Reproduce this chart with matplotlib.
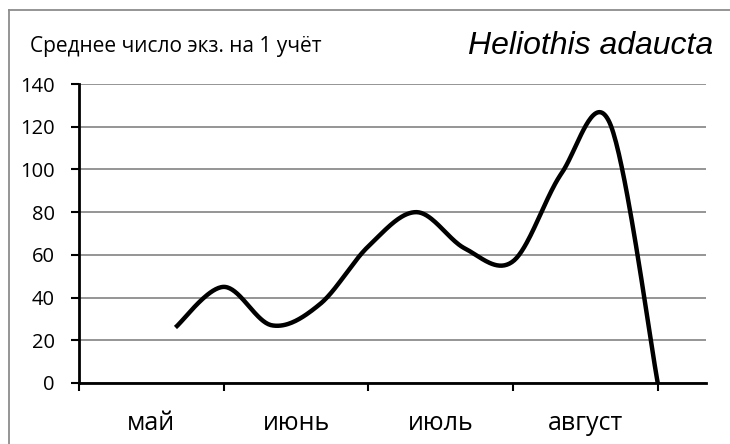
import numpy as np
import matplotlib
matplotlib.use("Agg")
import matplotlib.pyplot as plt
from matplotlib.lines import Line2D

# ten-day counts, positions are decade indices on the category axis
decades = [2, 3, 4, 5, 6, 7, 8, 9, 10, 11, 12]
counts = [26, 45, 27, 37, 64, 80, 63, 57, 98, 122, 0]
months = ["май", "июнь", "июль", "август"]
month_pos = [1.5, 4.5, 7.5, 10.5]
month_ticks = [0, 3, 6, 9, 12]
yticks = [0, 20, 40, 60, 80, 100, 120, 140]


def smooth(x, y, n=40):
    # spreadsheet-style smoothed line: cubic bezier through every point
    x = np.asarray(x, float)
    y = np.asarray(y, float)
    px = np.concatenate([[x[0]], x, [x[-1]]])
    py = np.concatenate([[y[0]], y, [y[-1]]])
    xs, ys = [], []
    t = np.linspace(0, 1, n)
    for i in range(1, len(px) - 2):
        x0, x1, x2, x3 = px[i - 1:i + 3]
        y0, y1, y2, y3 = py[i - 1:i + 3]
        bx = [x1, x1 + (x2 - x0) / 6, x2 - (x3 - x1) / 6, x2]
        by = [y1, y1 + (y2 - y0) / 6, y2 - (y3 - y1) / 6, y2]
        c = [(1 - t) ** 3, 3 * (1 - t) ** 2 * t, 3 * (1 - t) * t ** 2, t ** 3]
        xs.append(sum(ci * b for ci, b in zip(c, bx)))
        ys.append(sum(ci * b for ci, b in zip(c, by)))
    return np.concatenate(xs), np.concatenate(ys)


font = "Open Sans"
fig = plt.figure(figsize=(7.3, 4.44), dpi=100)
ax = fig.add_axes([0.1082, 0.1374, 0.8589, 0.6734])

sx, sy = smooth(decades, counts)
ax.plot(sx, sy, color="black", lw=3.2, solid_capstyle="butt", zorder=3, clip_on=False)

ax.set_xlim(0, 13)
ax.set_ylim(0, 140)
ax.set_yticks(yticks)
ax.set_yticklabels([str(v) for v in yticks], fontsize=14.5, family=font)
ax.yaxis.grid(True, color="#8c8c8c", lw=1.3)
ax.set_axisbelow(True)

ax.set_xticks(month_ticks)
ax.set_xticklabels([])
ax.set_xticks(month_pos, minor=True)
ax.set_xticklabels(months, minor=True, fontsize=18, family=font)
ax.tick_params(axis="x", which="minor", length=0, pad=20)
ax.tick_params(axis="both", which="major", length=6, width=1.5, direction="out", color="black")
ax.tick_params(axis="y", pad=11.5)

for side in ["top", "right"]:
    ax.spines[side].set_visible(False)
for side in ["left", "bottom"]:
    ax.spines[side].set_linewidth(2)
    ax.spines[side].set_color("black")

fig.text(30 / 730, 1 - 46 / 444, "Среднее число экз. на 1 учёт", fontsize=15,
         family=font, ha="left", va="center")
fig.text(713 / 730, 1 - 46 / 444, "Heliothis adaucta", fontsize=23, style="italic",
         family="Liberation Sans", ha="right", va="center")

# outer chart frame
fig.add_artist(Line2D([8.5 / 730, 8.5 / 730], [0, 1 - 10 / 444], color="#8c8c8c", lw=1.3))
fig.add_artist(Line2D([8.5 / 730, 1], [1 - 10 / 444, 1 - 10 / 444], color="#8c8c8c", lw=1.3))

fig.savefig("out.png", dpi=100)
